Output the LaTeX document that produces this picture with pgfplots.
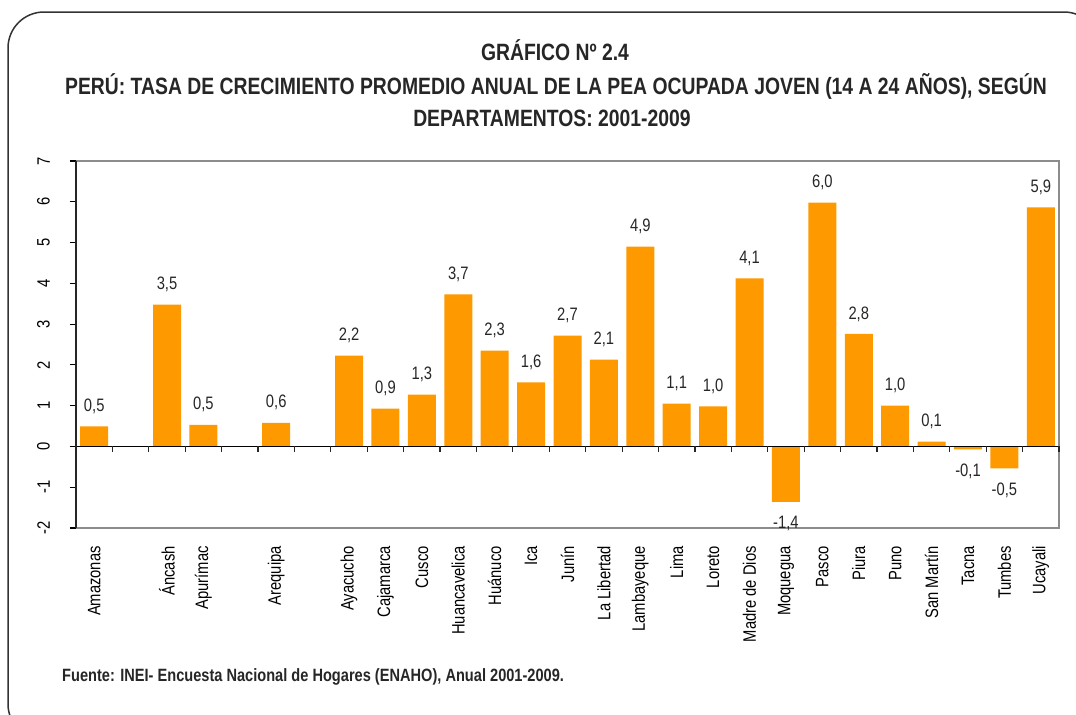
\documentclass[border=0pt]{standalone}
\usepackage{pgfplots}
\pgfplotsset{compat=1.18}
\usepackage{pgfplotstable}
\usepackage{fontspec}
\setmainfont{Liberation Sans}[FakeStretch=0.82]
\definecolor{barorange}{RGB}{255,153,0}
\definecolor{framegray}{RGB}{140,140,140}
\pgfplotstableread{
x y lab
0 0.49 0,5
2 3.48 3,5
3 0.53 0,5
5 0.58 0,6
7 2.23 2,2
8 0.93 0,9
9 1.27 1,3
10 3.73 3,7
11 2.35 2,3
12 1.57 1,6
13 2.72 2,7
14 2.13 2,1
15 4.90 4,9
16 1.05 1,1
17 0.98 1,0
18 4.12 4,1
20 5.98 6,0
21 2.76 2,8
22 1.00 1,0
23 0.12 0,1
26 5.86 5,9
}\pos
\pgfplotstableread{
x y lab
19 -1.36 -1,4
24 -0.07 -0,1
25 -0.54 -0,5
}\neg
\begin{document}
\begin{tikzpicture}
\useasboundingbox (0,0) rectangle (1076bp,-715bp);
\begin{scope}
\clip (0,0) rectangle (1076bp,-715bp);
\draw[line width=1.5bp, black!80, rounded corners=36bp] (8bp,-12bp) rectangle (1100bp,-740bp);
\end{scope}
\node[font=\bfseries\fontsize{23.6bp}{26bp}\selectfont, text=black!85] at (555bp,-50bp) {GRÁFICO Nº 2.4};
\node[font=\bfseries\fontsize{23.6bp}{26bp}\selectfont, text=black!85] at (556bp,-86bp) {PERÚ: TASA DE CRECIMIENTO PROMEDIO ANUAL DE LA PEA OCUPADA JOVEN (14 A 24 AÑOS), SEGÚN};
\node[font=\bfseries\fontsize{23.6bp}{26bp}\selectfont, text=black!85] at (552bp,-118bp) {DEPARTAMENTOS: 2001-2009};
\node[font=\bfseries\fontsize{17.8bp}{20bp}\selectfont, text=black!85, anchor=west, inner sep=0pt] at (62bp,-677bp) {Fuente: INEI- Encuesta Nacional de Hogares (ENAHO), Anual 2001-2009.};
\begin{axis}[
  at={(76bp,-528bp)}, anchor=south west,
  scale only axis, width=983bp, height=367bp,
  xmin=-0.5, xmax=26.5, ymin=-2, ymax=7,
  ybar, bar width=28bp, bar shift=0pt,
  axis line style={draw=none},
  xtick={0,2,3,5,7,8,9,10,11,12,13,14,15,16,17,18,19,20,21,22,23,24,25,26},
  xticklabels={Amazonas,Áncash,Apurímac,Arequipa,Ayacucho,Cajamarca,Cusco,Huancavelica,Huánuco,Ica,Junín,La Libertad,Lambayeque,Lima,Loreto,Madre de Dios,Moquegua,Pasco,Piura,Puno,San Martín,Tacna,Tumbes,Ucayali},
  x tick style={draw=none},
  xticklabel style={rotate=90, anchor=east, font=\fontsize{18bp}{20bp}\selectfont, inner sep=0pt},
  xticklabel shift=12bp,
  ytick={-2,-1,0,1,2,3,4,5,6,7},
  ytick pos=left,
  y tick style={black, line width=1.2bp},
  tick align=outside, major tick length=6bp,
  yticklabel style={rotate=90, anchor=south, font=\fontsize{18bp}{20bp}\selectfont, inner sep=0pt},
  yticklabel shift=20bp,
  /pgf/number format/assume math mode=true,
  point meta=explicit symbolic,
  clip=false,
]
\addplot[fill=barorange, draw=none, nodes near coords,
  nodes near coords style={font=\fontsize{18bp}{20bp}\selectfont, inner sep=0pt, anchor=center, yshift=20bp, text=black!85}]
  table[x=x, y=y, meta=lab] {\pos};
\addplot[fill=barorange, draw=none, nodes near coords,
  nodes near coords style={font=\fontsize{18bp}{20bp}\selectfont, inner sep=0pt, anchor=center, yshift=-22bp, text=black!85}]
  table[x=x, y=y, meta=lab] {\neg};
\draw[framegray, line width=2bp] (rel axis cs:0,1) -- (rel axis cs:1,1) -- (rel axis cs:1,0) -- (rel axis cs:0,0);
\draw[black!85, line width=2bp] (rel axis cs:0,0) -- (rel axis cs:0,1);
\draw[black, line width=1.3bp] (axis cs:-0.5,0) -- (axis cs:26.5,0);
\pgfplotsinvokeforeach{-0.5,0.5,...,26.5}{\draw[black!85, line width=1.2bp] (axis cs:#1,0) -- ([yshift=-6bp]axis cs:#1,0);}
\end{axis}
\end{tikzpicture}
\end{document}
